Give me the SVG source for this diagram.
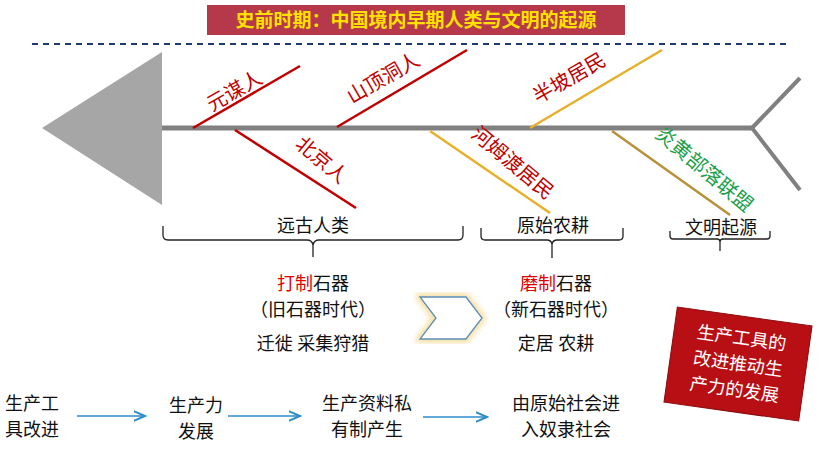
<svg xmlns="http://www.w3.org/2000/svg" width="820" height="460" viewBox="0 0 820 460">
<defs>
<style>
text{font-family:"Liberation Serif","Noto Sans CJK SC",serif;}
.t{font-size:18px;fill:#111;text-anchor:middle}
.lb{font-size:20px;fill:#c00000}
.brace{fill:none;stroke:#222;stroke-width:1.3}
.arr{stroke:#2e8bc9;stroke-width:1.6;marker-end:url(#ah)}
</style>
<marker id="ah" markerWidth="8" markerHeight="8" refX="7" refY="4" orient="auto"><path d="M0,1 L7,4 L0,7" fill="none" stroke="#2e8bc9" stroke-width="1.2"/></marker>
<filter id="glow"><feGaussianBlur stdDeviation="3"/></filter>
</defs>
<rect width="820" height="460" fill="#fff"/>
<g id="title"><rect x="207" y="5" width="418" height="30" fill="#b5394b"/><text x="416" y="27" font-size="19" font-weight="bold" fill="#ffe100" text-anchor="middle">史前时期：中国境内早期人类与文明的起源</text></g>
<line x1="32" y1="44" x2="790" y2="44" stroke="#1f3a6e" stroke-width="2" stroke-dasharray="6,5"/>
<g id="fishbone">
<polygon points="42,128 162,52 162,205" fill="#a6a6a6"/>
<line x1="162" y1="128" x2="752" y2="128" stroke="#808080" stroke-width="5"/>
<path d="M800,78 L752,128 L800,190" fill="none" stroke="#808080" stroke-width="4"/>
</g>
<g id="connectors">
<line x1="193" y1="128" x2="300" y2="66" stroke="#c00000" stroke-width="2.5"/>
<line x1="235" y1="130" x2="356" y2="208" stroke="#c00000" stroke-width="2.5"/>
<line x1="337" y1="127" x2="467" y2="50" stroke="#c00000" stroke-width="2.5"/>
<line x1="430" y1="131" x2="550" y2="213" stroke="#e6b02a" stroke-width="2.5"/>
<line x1="530" y1="128" x2="662" y2="50" stroke="#e6b02a" stroke-width="2.5"/>
<line x1="612" y1="131" x2="730" y2="215" stroke="#b8913a" stroke-width="2.5"/>
<line x1="77" y1="416" x2="145" y2="416" class="arr"/>
<line x1="228" y1="416" x2="300" y2="416" class="arr"/>
<line x1="423" y1="417" x2="487" y2="417" class="arr"/>
</g>
<g id="n1"><text class="lb" transform="translate(212,112) rotate(-30)">元谋人</text></g>
<g id="n2"><text class="lb" transform="translate(294,146) rotate(40)">北京人</text></g>
<g id="n3"><text class="lb" transform="translate(352,104) rotate(-30)">山顶洞人</text></g>
<g id="n4"><text class="lb" transform="translate(470,136) rotate(40)">河姆渡居民</text></g>
<g id="n5"><text class="lb" transform="translate(538,104) rotate(-30)">半坡居民</text></g>
<g id="n6"><text class="lb" style="fill:#1aa04a" transform="translate(654,136) rotate(40)">炎黄部落联盟</text></g>
<g id="braces">
<path class="brace" d="M163,226 v9 q0,5 5,5 h139 q5,0 6,5 v12 M313,245 q1,-5 6,-5 h139 q5,0 5,-5 v-9"/>
<path class="brace" d="M481,228 v8 q0,4 4,4 h62 q4,0 5,4 v14 M552,244 q1,-4 5,-4 h62 q4,0 4,-4 v-8"/>
<path class="brace" d="M670,231 v5 q0,3 3,3 h44 q3,0 3,3 v9 M720,242 q0,-3 3,-3 h44 q3,0 3,-3 v-5"/>
<text class="t" x="313" y="232">远古人类</text>
<text class="t" x="553" y="232">原始农耕</text>
<text class="t" x="721" y="234">文明起源</text>
</g>
<g id="old">
<text class="t" x="313" y="290"><tspan fill="#e00000">打制</tspan>石器</text>
<text class="t" x="313" y="316">（旧石器时代）</text>
<text class="t" x="313" y="350">迁徙  采集狩猎</text>
</g>
<g id="new">
<text class="t" x="556" y="290"><tspan fill="#e00000">磨制</tspan>石器</text>
<text class="t" x="556" y="316">（新石器时代）</text>
<text class="t" x="556" y="350">定居  农耕</text>
</g>
<g id="chevron">
<polygon points="420,297 466,297 482,318 466,339 420,339 436,318" fill="none" stroke="#f5d78a" stroke-width="6" filter="url(#glow)"/>
<polygon points="420,297 466,297 482,318 466,339 420,339 436,318" fill="#fff" stroke="#5b8fb9" stroke-width="1.3"/>
</g>
<g id="note" transform="translate(738,364) rotate(8)">
<rect x="-68" y="-48" width="136" height="96" fill="#b80f14" stroke="#8a0a0e"/>
<text x="0" y="-20" font-size="18" fill="#fff" text-anchor="middle">生产工具的</text>
<text x="0" y="6" font-size="18" fill="#fff" text-anchor="middle">改进推动生</text>
<text x="0" y="32" font-size="18" fill="#fff" text-anchor="middle">产力的发展</text>
</g>
<g id="s1"><text x="5" y="410" font-size="18" fill="#111">生产工</text><text x="5" y="436" font-size="18" fill="#111">具改进</text></g>
<g id="s2"><text class="t" x="196" y="412">生产力</text><text class="t" x="196" y="438">发展</text></g>
<g id="s3"><text class="t" x="367" y="410">生产资料私</text><text class="t" x="367" y="436">有制产生</text></g>
<g id="s4"><text class="t" x="566" y="410">由原始社会进</text><text class="t" x="566" y="436">入奴隶社会</text></g>
</svg>
